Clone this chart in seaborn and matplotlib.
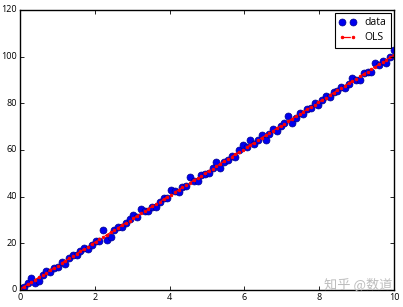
import numpy as np
import matplotlib
matplotlib.use("Agg")
import matplotlib.pyplot as plt
import seaborn as sns

# x grid of the sample (100 evenly spaced points from 0 to 10)
x_vals = np.linspace(0, 10, 100)
y_vals = [0.8, 1.3, 3.2, 5.3, 3.2, 3.8, 6.5, 8.0, 7.9, 9.6,
          9.7, 12.2, 11.3, 13.7, 15.0, 14.9, 16.9, 18.2, 17.7, 19.4,
          20.8, 21.1, 25.6, 21.4, 22.7, 25.6, 27.1, 26.9, 28.8, 30.3,
          32.2, 31.5, 34.8, 34.0, 33.8, 35.5, 35.5, 37.8, 39.6, 39.4,
          42.7, 42.5, 41.8, 44.2, 44.7, 48.6, 46.7, 46.8, 49.4, 49.9,
          50.2, 52.5, 54.9, 52.3, 55.0, 55.7, 57.4, 57.2, 59.9, 62.0,
          61.2, 64.3, 62.4, 64.5, 66.4, 64.3, 67.0, 68.8, 68.1, 70.1,
          71.5, 74.7, 71.5, 73.9, 75.7, 75.5, 77.4, 77.9, 80.0, 79.3,
          81.5, 83.2, 82.6, 84.7, 85.1, 87.0, 86.5, 88.5, 90.9, 90.1,
          90.1, 92.9, 93.3, 93.6, 97.1, 96.5, 98.3, 97.4, 99.8, 103.0]
series_labels = ["data", "OLS"]
x_ticks = [0, 2, 4, 6, 8, 10]
y_ticks = [0, 20, 40, 60, 80, 100, 120]
watermark = "知乎 @数道"

plt.style.use("classic")
plt.rcParams["font.family"] = ["Open Sans", "DejaVu Sans"]

y_arr = np.asarray(y_vals)
coef = np.polyfit(x_vals, y_arr, 1)
fitted = np.polyval(coef, x_vals)

fig = plt.figure(figsize=(4.03, 3.07), dpi=100, facecolor="white")
ax = fig.add_axes([20 / 403, 17 / 307, 374 / 403, 280 / 307])
ax.set_facecolor("white")

sns.lineplot(x=x_vals, y=y_arr, ax=ax, color="#0000ee", marker="o", linestyle="",
             markersize=5, markeredgecolor="#00008b", markeredgewidth=0.5,
             label=series_labels[0], sort=False)
sns.lineplot(x=x_vals, y=fitted, ax=ax, color="#ff0000", marker=".", linestyle="--",
             linewidth=0.9, markersize=3.5, markeredgecolor="#ff0000",
             label=series_labels[1], sort=False)

ax.set_xlim(0, 10)
ax.set_ylim(0, 120)
ax.set_xticks(x_ticks)
ax.set_yticks(y_ticks)
ax.tick_params(direction="in", length=3, width=0.6, labelsize=6.5, pad=2,
               top=True, right=True)
for s in ax.spines.values():
    s.set_linewidth(1.0)

leg = ax.legend(loc="upper right", numpoints=2, prop={"size": 7.5},
                frameon=True, fancybox=False, borderpad=0.4,
                handlelength=1.7, handletextpad=0.8, labelspacing=0.4,
                borderaxespad=0.3)
leg.get_frame().set_edgecolor("black")
leg.get_frame().set_linewidth(0.8)

fig.text(358 / 403, 1 - 284 / 307, watermark, ha="center", va="center",
         fontsize=9.5, color="#bdbdbd",
         family=["Noto Sans CJK SC", "DejaVu Sans"])

fig.savefig("out.png", dpi=100, facecolor="white")
